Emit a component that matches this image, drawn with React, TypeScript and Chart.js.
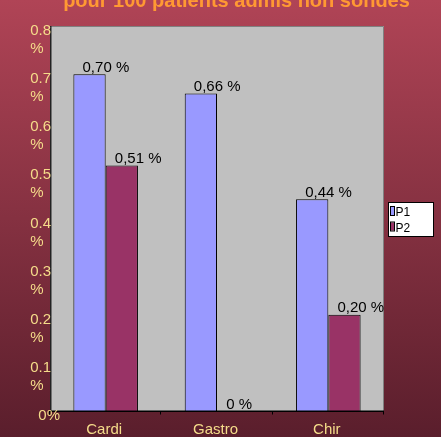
import React, { useEffect, useRef } from "react";
import { Chart, registerables } from "chart.js";

Chart.register(...registerables);

// Chart content
const TITLE = "pour 100 patients admis non sondés";
const CATEGORIES = ["Cardi", "Gastro", "Chir"];
const SERIES_NAMES = ["P1", "P2"];
const P1_VALUES = [0.7, 0.66, 0.44];
const P2_VALUES = [0.51, 0, 0.2];
const Y_MAX = 0.8;
const Y_STEP = 0.1;

const FONT = '"Liberation Sans", Arial, Helvetica, sans-serif';
const SERIES_COLORS = ["#9999FF", "#993366"];
const PLOT_BG = "#C0C0C0";
const TICK_COLOR = "#F5DC8A";
const TITLE_COLOR = "#FF9933";

const formatValue = (v: number) =>
  v === 0 ? "0 %" : v.toFixed(2).replace(".", ",") + " %";

const formatTick = (v: number): string[] =>
  v === 0 ? ["0%"] : [String(Number(v.toFixed(1))), "%"];

const slidePlugin = {
  id: "slideDecor",
  beforeDraw(chart: any) {
    const { ctx, width, height, chartArea: a } = chart;
    ctx.save();
    const g = ctx.createLinearGradient(0, 0, 0, height);
    g.addColorStop(0, "#B04456");
    g.addColorStop(1, "#5A1E2C");
    ctx.fillStyle = g;
    ctx.fillRect(0, 0, width, height);

    // plot area
    ctx.fillStyle = PLOT_BG;
    ctx.fillRect(a.left, a.top, a.right - a.left, a.bottom - a.top);
    ctx.strokeStyle = "#808080";
    ctx.lineWidth = 1;
    ctx.beginPath();
    ctx.moveTo(a.left, a.top + 0.5);
    ctx.lineTo(a.right - 0.5, a.top + 0.5);
    ctx.lineTo(a.right - 0.5, a.bottom);
    ctx.stroke();
    ctx.restore();
  },
  afterDatasetsDraw(chart: any) {
    const { ctx, width, chartArea: a } = chart;
    const xs = chart.scales.x;
    const ys = chart.scales.y;
    ctx.save();

    // axes
    ctx.fillStyle = "#222";
    ctx.fillRect(a.left, a.top, 1.5, a.bottom - a.top);
    ctx.fillStyle = "#000";
    ctx.fillRect(a.left, a.bottom - 0.5, a.right - a.left, 1.5);
    ctx.strokeStyle = "#000";
    ctx.lineWidth = 1;
    for (let i = 0; i <= CATEGORIES.length; i++) {
      const x = Math.round(xs.getPixelForValue(i - 0.5)) - 0.5;
      ctx.beginPath();
      ctx.moveTo(x, a.bottom);
      ctx.lineTo(x, a.bottom + 3.5);
      ctx.stroke();
    }

    // y tick labels
    ctx.fillStyle = TICK_COLOR;
    ctx.font = `15px ${FONT}`;
    ctx.textBaseline = "alphabetic";
    ctx.textAlign = "left";
    ys.ticks.forEach((t: any) => {
      const y = ys.getPixelForValue(t.value);
      const lines = formatTick(t.value);
      const right = t.value === 0 ? a.left + 10 : a.left + 1;
      const left = right - ctx.measureText(lines[0]).width;
      lines.forEach((ln, k) => ctx.fillText(ln, left, y + 9 + k * 18));
    });

    // x tick labels
    ctx.textAlign = "center";
    CATEGORIES.forEach((c, i) => {
      ctx.fillText(c, xs.getPixelForValue(i) - 1.5, a.bottom + 23);
    });

    // value labels
    ctx.fillStyle = "#000";
    ctx.textAlign = "left";
    chart.data.datasets.forEach((ds: any, di: number) => {
      const meta = chart.getDatasetMeta(di);
      meta.data.forEach((bar: any, i: number) => {
        const v = ds.data[i];
        ctx.fillText(formatValue(v), bar.x - 7, bar.y - 2.5);
      });
    });

    // legend
    const lx = a.right + 4;
    const ly = Math.round((a.top + a.bottom) / 2) - 17;
    ctx.fillStyle = "#FFFFFF";
    ctx.fillRect(lx, ly, 45, 34);
    ctx.strokeStyle = "#000";
    ctx.strokeRect(lx + 0.5, ly + 0.5, 45, 34);
    ctx.font = `12px ${FONT}`;
    chart.data.datasets.forEach((ds: any, di: number) => {
      const sy = ly + 5 + di * 15.5;
      ctx.fillStyle = ds.backgroundColor;
      ctx.fillRect(lx + 3, sy, 3, 8);
      ctx.strokeStyle = "#000";
      ctx.strokeRect(lx + 2.5, sy - 0.5, 4, 9);
      ctx.fillStyle = "#000";
      ctx.fillText(ds.label, lx + 7.5, sy + 9);
    });

    // title
    ctx.fillStyle = TITLE_COLOR;
    ctx.font = `bold 20px ${FONT}`;
    ctx.textAlign = "center";
    ctx.fillText(TITLE, width / 2 + 16, 7);

    ctx.restore();
  },
};

export default function App() {
  const ref = useRef<HTMLCanvasElement>(null);

  useEffect(() => {
    const chart = new Chart(ref.current as HTMLCanvasElement, {
      type: "bar",
      data: {
        labels: CATEGORIES,
        datasets: [P1_VALUES, P2_VALUES].map((vals, i) => ({
          label: SERIES_NAMES[i],
          data: vals,
          backgroundColor: SERIES_COLORS[i],
          borderColor: "#000000",
          borderWidth: 1,
          categoryPercentage: 0.58,
          barPercentage: 1,
        })),
      },
      options: {
        responsive: false,
        animation: false,
        devicePixelRatio: 1,
        layout: { padding: { top: 26, right: 57, left: 0, bottom: 0 } },
        plugins: {
          legend: { display: false },
          tooltip: { enabled: false },
          title: { display: false },
        },
        scales: {
          x: {
            type: "category",
            offset: true,
            grid: { display: false },
            border: { display: false },
            ticks: { display: false },
            afterFit: (s: any) => {
              s.height = 26;
            },
          },
          y: {
            min: 0,
            max: Y_MAX,
            ticks: { display: false, stepSize: Y_STEP },
            grid: { display: false },
            border: { display: false },
            afterFit: (s: any) => {
              s.width = 50;
            },
          },
        },
      },
      plugins: [slidePlugin],
    } as any);
    return () => chart.destroy();
  }, []);

  return (
    <div style={{ position: "fixed", left: 0, top: 0, width: 441, height: 437 }}>
      <canvas ref={ref} width={441} height={437} style={{ display: "block" }} />
    </div>
  );
}
